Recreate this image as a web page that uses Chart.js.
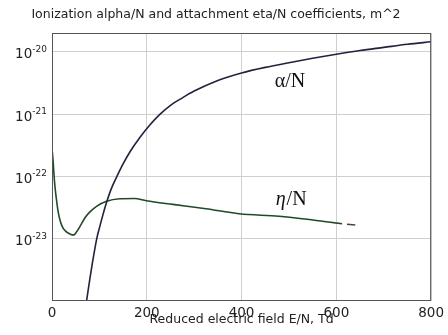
<!DOCTYPE html>
<html>
<head>
<meta charset="utf-8">
<script src="https://cdn.jsdelivr.net/npm/chart.js@4.4.0/dist/chart.umd.min.js"></script>
<style>
  body { margin: 0; background: #fff; }
  #wrap { width: 448px; height: 335px; position: relative; }
</style>
</head>
<body>
<div id="wrap"><canvas id="chart_1"></canvas></div>
<script>
// reduced field E/N (Td) and coefficients (m^2)
const alphaE = [72, 76, 80, 85, 90, 95, 100, 107, 115, 125, 137, 150, 165, 185, 206, 227, 250, 275, 300, 350, 400, 450, 500, 550, 600, 650, 700, 750, 800];
const alphaN = [8.91e-25, 1.445e-24, 2.29e-24, 3.98e-24, 6.61e-24, 1.047e-23, 1.479e-23, 2.344e-23, 3.8e-23, 6.31e-23, 1.0e-22, 1.585e-22, 2.512e-22, 4.17e-22, 6.61e-22, 9.77e-22, 1.38e-21, 1.82e-21, 2.34e-21, 3.47e-21, 4.57e-21, 5.62e-21, 6.68e-21, 7.85e-21, 9.12e-21, 1.047e-20, 1.175e-20, 1.318e-20, 1.445e-20];

const etaE = [0, 2, 4, 6, 9, 13, 18, 24, 32, 40, 46, 52, 60, 70, 80, 94, 115, 143, 174, 199, 255, 325, 395, 479, 550, 612];
const etaN = [2.8e-22, 1.9e-22, 1.12e-22, 7.2e-23, 4.5e-23, 2.7e-23, 1.86e-23, 1.45e-23, 1.26e-23, 1.17e-23, 1.15e-23, 1.29e-23, 1.62e-23, 2.19e-23, 2.69e-23, 3.31e-23, 3.98e-23, 4.37e-23, 4.42e-23, 4.07e-23, 3.55e-23, 3.02e-23, 2.51e-23, 2.29e-23, 2.0e-23, 1.74e-23];

// pinkish tail over the end of eta and the dashed continuation
const tailE = [585, 612];
const tailN = [1.85e-23, 1.74e-23];
const dashE = [612, 640];
const dashN = [1.74e-23, 1.66e-23];

const xTicks = [0, 200, 400, 600, 800];
const yTicks = [1e-23, 1e-22, 1e-21, 1e-20];
const yExp = ['-23', '-22', '-21', '-20'];

const titleText = 'Ionization alpha/N and attachment eta/N coefficients, m^2';
const xTitle = 'Reduced electric field E/N, Td';

function pts(xs, ys) {
    return xs.map((x, i) => ({ x: x, y: ys[i] }));
}

const decorations = {
    id: 'decorations',
    afterDraw(chart) {
        const ctx = chart.ctx;
        const a = chart.chartArea;
        const xs = chart.scales.x;
        const ys = chart.scales.y;
        ctx.save();
        // frame
        ctx.strokeStyle = '#555';
        ctx.lineWidth = 1;
        ctx.strokeRect(a.left + 0.5, a.top + 0.5, a.right - a.left - 1, a.bottom - a.top - 1);

        // y tick labels as 10 with a raised exponent
        ctx.fillStyle = '#222';
        ctx.textBaseline = 'alphabetic';
        ctx.textAlign = 'left';
        yTicks.forEach((v, i) => {
            const py = ys.getPixelForValue(v);
            ctx.font = '9px "DejaVu Sans"';
            const we = ctx.measureText(yExp[i]).width;
            ctx.font = '13.5px "DejaVu Sans"';
            const wb = ctx.measureText('10').width;
            const x0 = a.left - 5 - we - wb;
            ctx.fillText('10', x0, py + 6.6);
            ctx.font = '9px "DejaVu Sans"';
            ctx.fillText(yExp[i], x0 + wb, py);
        });

        // title and axis label
        ctx.font = '12.5px "DejaVu Sans"';
        ctx.textAlign = 'center';
        ctx.fillText(titleText, 216, 18);
        ctx.fillText(xTitle, (a.left + a.right) / 2, 323);

        // curve labels
        ctx.fillStyle = '#111';
        ctx.textAlign = 'left';
        ctx.font = '20px "Liberation Serif"';
        ctx.fillText('\u03B1/N', xs.getPixelForValue(470), ys.getPixelForValue(2.72e-21));

        const ex = xs.getPixelForValue(472);
        const ey = ys.getPixelForValue(3.5e-23);
        ctx.font = 'italic 20px "Liberation Serif"';
        ctx.fillText('\u03B7', ex, ey);
        const w = ctx.measureText('\u03B7').width;
        ctx.font = '20px "Liberation Serif"';
        ctx.fillText('/N', ex + w + 1, ey);
        ctx.restore();
    }
};

new Chart('chart_1', {
    type: 'line',
    data: {
        datasets: [
            {
                label: 'alpha/N',
                data: pts(alphaE, alphaN),
                borderColor: '#22223f',
                borderWidth: 1.6,
                pointRadius: 0,
                cubicInterpolationMode: 'monotone'
            },
            {
                label: 'eta/N',
                data: pts(etaE, etaN),
                borderColor: '#1f4a24',
                borderWidth: 1.6,
                pointRadius: 0,
                cubicInterpolationMode: 'monotone'
            },
            {
                label: 'tail',
                data: pts(tailE, tailN),
                borderColor: 'rgba(210,90,110,0.55)',
                borderWidth: 1.2,
                pointRadius: 0
            },
            {
                label: 'dash',
                data: pts(dashE, dashN),
                borderColor: '#5a3a48',
                borderWidth: 1.4,
                borderDash: [0, 5, 9, 0],
                pointRadius: 0
            }
        ]
    },
    options: {
        responsive: true,
        maintainAspectRatio: false,
        animation: false,
        layout: { padding: { top: 33, right: 15, left: 0, bottom: 0 } },
        plugins: {
            legend: { display: false },
            title: { display: false },
            tooltip: { enabled: false }
        },
        scales: {
            x: {
                type: 'linear',
                min: 0,
                max: 800,
                afterBuildTicks: (scale) => { scale.ticks = xTicks.map(v => ({ value: v })); },
                afterFit: (scale) => { scale.height = 34; },
                ticks: {
                    color: '#222',
                    font: { family: 'DejaVu Sans', size: 13.5 },
                    padding: 4,
                    maxRotation: 0
                },
                grid: { color: '#cfcfcf', drawTicks: false },
                border: { display: false }
            },
            y: {
                type: 'logarithmic',
                min: 1e-24,
                max: 2e-20,
                afterBuildTicks: (scale) => { scale.ticks = yTicks.map(v => ({ value: v })); },
                afterFit: (scale) => { scale.width = 52; },
                ticks: { display: false },
                grid: { color: '#cfcfcf', drawTicks: false },
                border: { display: false }
            }
        }
    },
    plugins: [decorations]
});
</script>
</body>
</html>
